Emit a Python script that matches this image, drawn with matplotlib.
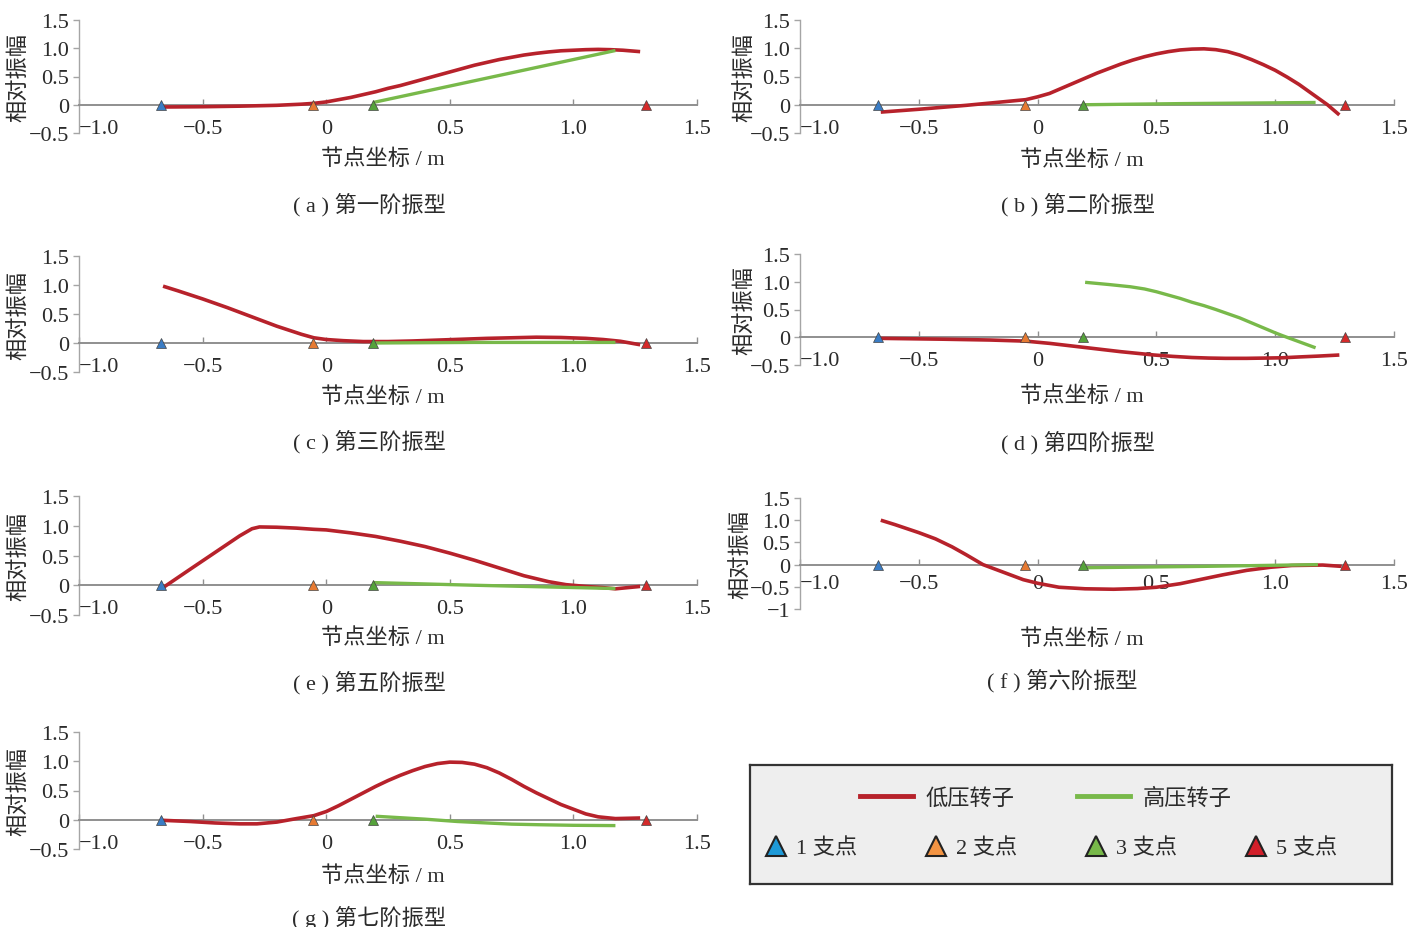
import matplotlib
matplotlib.use("Agg")
import matplotlib.pyplot as plt
from matplotlib.lines import Line2D

plt.rcParams["font.family"] = ["Liberation Serif", "Noto Sans CJK SC", "DejaVu Sans"]
plt.rcParams["axes.unicode_minus"] = True

# ---------------- data ----------------
support_x = [-0.67, -0.055, 0.19, 1.295]
support_names = ["1 支点", "2 支点", "3 支点", "5 支点"]

x_ticks = [-1.0, -0.5, 0.0, 0.5, 1.0, 1.5]
x_tick_labels = ["\u22121.0", "\u22120.5", "0", "0.5", "1.0", "1.5"]
y_ticks = [-0.5, 0.0, 0.5, 1.0, 1.5]
y_tick_labels = ["\u22120.5", "0", "0.5", "1.0", "1.5"]
y_ticks_f = [-1.0, -0.5, 0.0, 0.5, 1.0, 1.5]
y_tick_labels_f = ["\u22121", "\u22120.5", "0", "0.5", "1.0", "1.5"]

titles = ["( a ) 第一阶振型", "( b ) 第二阶振型", "( c ) 第三阶振型", "( d ) 第四阶振型",
          "( e ) 第五阶振型", "( f ) 第六阶振型", "( g ) 第七阶振型"]
series_names = ["低压转子", "高压转子"]

# mode 1
lp_x_a = [-0.66, -0.5, -0.35, -0.2, -0.1, -0.05, 0.0, 0.05, 0.1, 0.15, 0.2, 0.25, 0.3, 0.35,
          0.4, 0.45, 0.5, 0.55, 0.6, 0.65, 0.7, 0.75, 0.8, 0.85, 0.9, 0.95, 1.0, 1.05, 1.1,
          1.15, 1.2, 1.27]
lp_y_a = [-0.04, -0.035, -0.025, -0.01, 0.01, 0.025, 0.05, 0.09, 0.13, 0.18, 0.23, 0.29, 0.34,
          0.4, 0.46, 0.52, 0.58, 0.64, 0.7, 0.75, 0.8, 0.84, 0.88, 0.91, 0.935, 0.955, 0.965,
          0.975, 0.98, 0.975, 0.965, 0.94]
hp_x_a = [0.19, 1.17]
hp_y_a = [0.04, 0.96]
# mode 2
lp_x_b = [-0.66, -0.5, -0.3, -0.15, -0.05, 0.0, 0.05, 0.1, 0.15, 0.2, 0.25, 0.3, 0.35, 0.4,
          0.45, 0.5, 0.55, 0.6, 0.65, 0.7, 0.75, 0.8, 0.85, 0.9, 0.95, 1.0, 1.05, 1.1, 1.15,
          1.2, 1.22, 1.27]
lp_y_b = [-0.13, -0.08, -0.01, 0.05, 0.09, 0.14, 0.2, 0.29, 0.38, 0.47, 0.56, 0.64, 0.72, 0.79,
          0.85, 0.9, 0.94, 0.97, 0.985, 0.99, 0.975, 0.94, 0.88, 0.8, 0.71, 0.61, 0.49, 0.36,
          0.21, 0.06, 0.0, -0.18]
hp_x_b = [0.19, 0.6, 1.17]
hp_y_b = [0.0, 0.02, 0.04]
# mode 3
lp_x_c = [-0.66, -0.6, -0.5, -0.4, -0.3, -0.2, -0.1, -0.05, 0.0, 0.07, 0.15, 0.25, 0.35, 0.45,
          0.55, 0.65, 0.75, 0.85, 0.95, 1.05, 1.12, 1.19, 1.23, 1.27]
lp_y_c = [0.98, 0.9, 0.76, 0.61, 0.45, 0.29, 0.15, 0.09, 0.06, 0.04, 0.025, 0.025, 0.035, 0.05,
          0.065, 0.08, 0.09, 0.1, 0.095, 0.08, 0.06, 0.03, 0.0, -0.03]
hp_x_c = [0.19, 0.6, 1.17]
hp_y_c = [0.0, 0.01, 0.01]
# mode 4
lp_x_d = [-0.66, -0.4, -0.2, -0.05, 0.05, 0.12, 0.19, 0.27, 0.35, 0.42, 0.49, 0.57, 0.65, 0.72,
          0.79, 0.88, 0.96, 1.03, 1.1, 1.18, 1.27]
lp_y_d = [-0.02, -0.035, -0.05, -0.07, -0.11, -0.145, -0.18, -0.22, -0.26, -0.29, -0.32, -0.345,
          -0.365, -0.375, -0.38, -0.38, -0.375, -0.37, -0.355, -0.34, -0.32]
hp_x_d = [0.2, 0.3, 0.39, 0.45, 0.5, 0.55, 0.6, 0.65, 0.7, 0.75, 0.79, 0.85, 0.9, 0.95, 1.0,
          1.03, 1.1, 1.17]
hp_y_d = [0.99, 0.95, 0.91, 0.87, 0.82, 0.76, 0.7, 0.63, 0.57, 0.5, 0.44, 0.35, 0.26, 0.17,
          0.08, 0.03, -0.08, -0.19]
# mode 5
lp_x_e = [-0.66, -0.55, -0.45, -0.35, -0.3, -0.27, -0.2, -0.12, -0.05, 0.0, 0.1, 0.2, 0.3, 0.4,
          0.5, 0.6, 0.7, 0.8, 0.9, 0.97, 1.05, 1.12, 1.17, 1.22, 1.27]
lp_y_e = [-0.04, 0.27, 0.55, 0.83, 0.95, 0.98, 0.975, 0.96, 0.94, 0.93, 0.88, 0.82, 0.74, 0.65,
          0.54, 0.42, 0.29, 0.16, 0.06, 0.01, -0.02, -0.04, -0.06, -0.04, -0.02]
hp_x_e = [0.19, 0.6, 1.17]
hp_y_e = [0.045, 0.0, -0.055]
# mode 6
lp_x_f = [-0.66, -0.6, -0.5, -0.43, -0.36, -0.3, -0.23, -0.15, -0.06, 0.0, 0.09, 0.2, 0.32,
          0.42, 0.5, 0.6, 0.69, 0.78, 0.88, 0.98, 1.07, 1.2, 1.28]
lp_y_f = [1.0, 0.9, 0.72, 0.58, 0.4, 0.22, 0.0, -0.16, -0.34, -0.42, -0.51, -0.545, -0.555,
          -0.54, -0.51, -0.43, -0.33, -0.23, -0.13, -0.06, -0.02, -0.01, -0.04]
hp_x_f = [0.2, 0.7, 1.18]
hp_y_f = [-0.07, -0.04, 0.0]
# mode 7
lp_x_g = [-0.66, -0.55, -0.45, -0.35, -0.28, -0.2, -0.12, -0.05, 0.0, 0.05, 0.1, 0.15, 0.2,
          0.25, 0.3, 0.35, 0.4, 0.45, 0.5, 0.55, 0.6, 0.65, 0.7, 0.75, 0.8, 0.85, 0.9, 0.95,
          1.0, 1.05, 1.1, 1.17, 1.27]
lp_y_g = [-0.01, -0.03, -0.055, -0.07, -0.07, -0.04, 0.02, 0.07, 0.14, 0.24, 0.35, 0.46, 0.57,
          0.67, 0.76, 0.84, 0.91, 0.96, 0.985, 0.98, 0.95, 0.89, 0.8, 0.69, 0.57, 0.46, 0.36,
          0.26, 0.18, 0.1, 0.05, 0.02, 0.03]
hp_x_g = [0.2, 0.3, 0.4, 0.53, 0.65, 0.75, 0.86, 1.0, 1.17]
hp_y_g = [0.06, 0.035, 0.01, -0.03, -0.055, -0.075, -0.085, -0.095, -0.1]

modes = [
    (lp_x_a, lp_y_a, hp_x_a, hp_y_a),
    (lp_x_b, lp_y_b, hp_x_b, hp_y_b),
    (lp_x_c, lp_y_c, hp_x_c, hp_y_c),
    (lp_x_d, lp_y_d, hp_x_d, hp_y_d),
    (lp_x_e, lp_y_e, hp_x_e, hp_y_e),
    (lp_x_f, lp_y_f, hp_x_f, hp_y_f),
    (lp_x_g, lp_y_g, hp_x_g, hp_y_g),
]

# ---------------- style ----------------
RED = "#b7222b"
GREEN = "#78b94a"
SUPPORT_FACE = ["#3a7cc4", "#e67a32", "#55a23b", "#d42a2a"]
LEGEND_FACE = ["#1e9ad8", "#f39443", "#78b94a", "#d21f2a"]
TXT = "#2b2b2b"
AXC = "#8f8f8f"
FS = 16

W, H = 1408, 928
fig = plt.figure(figsize=(W / 100, H / 100), dpi=100)


def rect(l, t, r, b):
    return [l / W, 1 - b / H, (r - l) / W, (b - t) / H]


# axes boxes in pixels: (left, right), top, bottom
LEFT_COL = (79, 697)
RIGHT_COL = (800, 1394)
boxes = [
    (LEFT_COL, 21, 134), (RIGHT_COL, 21, 134),
    (LEFT_COL, 257, 373), (RIGHT_COL, 255, 366),
    (LEFT_COL, 497, 616), (RIGHT_COL, 499, 610),
    (LEFT_COL, 733, 850),
]
xlabel_pos = [(383, 160), (1082, 161), (383, 398), (1082, 397),
              (383, 639), (1082, 640), (383, 877)]
title_pos = [(369, 205), (1078, 205), (369, 442), (1078, 443),
             (369, 683), (1062, 681), (369, 918)]
ylabel_x = [20, 746, 20, 746, 20, 742, 20]
xtick_pad = [10, 10, 10, 10, 10, 7, 10]

for i, (lp_x, lp_y, hp_x, hp_y) in enumerate(modes):
    (l, r), t, b = boxes[i]
    ax = fig.add_axes(rect(l, t, r, b))
    ax.patch.set_alpha(0)
    ax.set_xlim(-1.0, 1.5)
    if i == 5:
        ax.set_ylim(-1.0, 1.5)
        ax.set_yticks(y_ticks_f, y_tick_labels_f)
    else:
        ax.set_ylim(-0.5, 1.5)
        ax.set_yticks(y_ticks, y_tick_labels)
    ax.set_xticks(x_ticks, x_tick_labels)
    ax.spines["top"].set_visible(False)
    ax.spines["right"].set_visible(False)
    ax.spines["bottom"].set_position(("data", 0))
    ax.spines["bottom"].set_color(AXC)
    ax.spines["bottom"].set_linewidth(1.4)
    ax.spines["left"].set_color("#a5a5a5")
    ax.spines["left"].set_linewidth(1.0)
    ax.tick_params(axis="x", direction="in", length=4, width=1, color=AXC,
                   labelsize=FS, labelcolor=TXT, pad=xtick_pad[i])
    ax.tick_params(axis="y", direction="out", length=4, width=1, color="#a5a5a5",
                   labelsize=FS, labelcolor=TXT, pad=3)
    xl = ax.get_xticklabels()
    xl[0].set_horizontalalignment("left")

    ax.plot(lp_x, lp_y, color=RED, lw=2.6, solid_capstyle="butt",
            solid_joinstyle="round", zorder=3)
    ax.plot(hp_x, hp_y, color=GREEN, lw=2.4, solid_capstyle="butt",
            solid_joinstyle="round", zorder=3.5)
    for sx, fc in zip(support_x, SUPPORT_FACE):
        ax.plot([sx], [0], marker="^", ms=6.5, mfc=fc, mec="#444444", mew=0.5,
                ls="none", clip_on=False, zorder=6)

    yc = (t + b) / 2
    fig.text(ylabel_x[i] / W, 1 - yc / H, "相对振幅", rotation=90, ha="center",
             va="center", fontsize=FS, color=TXT)
    fig.text(xlabel_pos[i][0] / W, 1 - xlabel_pos[i][1] / H, "节点坐标 / m",
             ha="center", va="center", fontsize=FS, color=TXT)
    fig.text(title_pos[i][0] / W, 1 - title_pos[i][1] / H, titles[i],
             ha="center", va="center", fontsize=FS, color=TXT)

# ---------------- legend panel ----------------
lax = fig.add_axes(rect(750, 766, 1392, 885))
lax.set_facecolor("#eeeeee")
lax.set_xticks([])
lax.set_yticks([])
for s in lax.spines.values():
    s.set_color("#333333")
    s.set_linewidth(1.6)

line_handles = [Line2D([], [], color=RED, lw=3.5), Line2D([], [], color=GREEN, lw=3.5)]
leg1 = lax.legend(line_handles, series_names, ncol=2, loc="center left",
                  bbox_to_anchor=((860 - 750) / 642, (885 - 799) / 119),
                  frameon=False, fontsize=FS, borderpad=0, borderaxespad=0,
                  handlelength=2.4, handletextpad=0.55, columnspacing=2.8)
for tx in leg1.get_texts():
    tx.set_color(TXT)
lax.add_artist(leg1)

marker_handles = [Line2D([], [], ls="none", marker="^", ms=15, mfc=fc, mec="#222222", mew=1.5)
                  for fc in LEGEND_FACE]
leg2 = lax.legend(marker_handles, support_names, ncol=4, loc="center left",
                  bbox_to_anchor=((765 - 750) / 642, (885 - 849) / 119),
                  frameon=False, fontsize=FS, borderpad=0, borderaxespad=0,
                  handlelength=1.0, handletextpad=0.4, columnspacing=3.05)
for tx in leg2.get_texts():
    tx.set_color(TXT)

fig.savefig("out.png", dpi=100, facecolor="white")
